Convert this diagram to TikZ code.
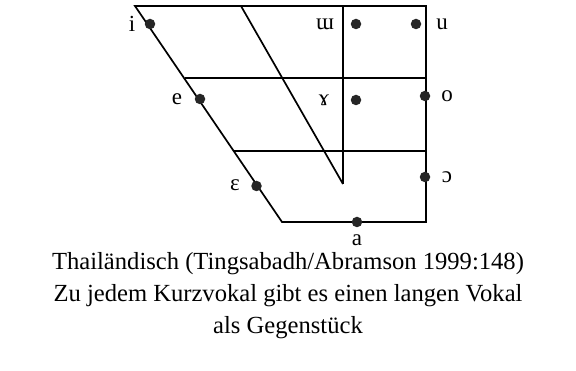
\documentclass[tikz,border=0pt]{standalone}
\usepackage{fontspec}
\setmainfont{Liberation Serif}
\usetikzlibrary{positioning}

\begin{document}
\begin{tikzpicture}[x=1pt, y=-1pt, line width=1.7pt,
    vdot/.style={circle, fill=black!85, inner sep=0pt, minimum size=10.5pt},
    vlabel/.style={font=\fontsize{23}{25}\selectfont, inner sep=0pt},
    caption/.style={font=\fontsize{24.6}{32}\selectfont, align=center, inner sep=0pt}]
    \useasboundingbox (0,0) rectangle (576,371);

    % Eckpunkte des Vokaltrapezes
    \coordinate (TL) at (135,6);
    \coordinate (TR) at (426,6);
    \coordinate (BR) at (426,222);
    \coordinate (BL) at (282,222);
    \coordinate (ML) at (185,78);
    \coordinate (MR) at (426,78);
    \coordinate (LL) at (234,151);
    \coordinate (LR) at (426,151);
    \coordinate (DT) at (241,6);
    \coordinate (VT) at (343,6);
    \coordinate (VB) at (343,184);

    % Umriss und Hilfslinien
    \draw (TL) -- (TR) -- (BR) -- (BL) -- cycle;
    \draw[line width=1.3pt] (ML) -- (MR);
    \draw[line width=1.3pt] (LL) -- (LR);
    \draw[line width=1.3pt] (VT) -- (VB);
    \draw (DT) -- (VB);

    % Vokale: Punkt und Symbol
    \node[vdot] (i)   at (150,24) {};
    \node[vdot] (e)   at (200,99) {};
    \node[vdot] (eps) at (256.5,186) {};
    \node[vdot] (uu)  at (356,24) {};
    \node[vdot] (u)   at (416,24) {};
    \node[vdot] (ram) at (356,100) {};
    \node[vdot] (o)   at (425,96) {};
    \node[vdot] (oo)  at (425,177) {};
    \node[vdot] (a)   at (357,222) {};

    \node[vlabel] (li)   at (132,24) {i};
    \node[vlabel] (le)   at (177,99) {e};
    \node[vlabel] (leps) at (235,185) {ɛ};
    \node[vlabel] (luu)  at (325,24) {ɯ};
    \node[vlabel] (lu)   at (442,24) {u};
    \node[vlabel] (lram) at (324,100) {ɤ};
    \node[vlabel] (lo)   at (447,96) {o};
    \node[vlabel] (loo)  at (447,177) {ɔ};
    \node[vlabel] (la)   at (357,240) {a};

    % Bildunterschrift
    \node[caption] (cap) at (288,296) {Thailändisch (Tingsabadh/Abramson 1999:148)\\
        Zu jedem Kurzvokal gibt es einen langen Vokal\\
        als Gegenstück};
\end{tikzpicture}
\end{document}
